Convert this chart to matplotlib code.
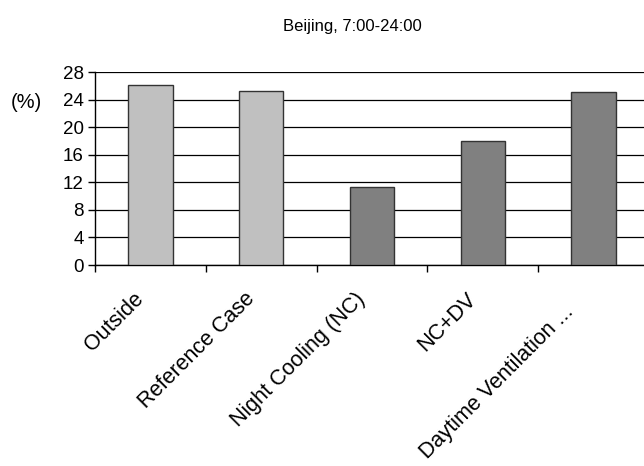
import numpy as np
import matplotlib.pyplot as plt
from matplotlib.ticker import FixedLocator
import matplotlib.transforms as mtransforms

plt.rcParams['font.family'] = ['Liberation Sans', 'DejaVu Sans']

# Data
categories = ["Outside", "Reference Case", "Night Cooling (NC)", "NC+DV",
              "Daytime Ventilation ...   "]
values = [26.2, 25.3, 11.3, 18.0, 25.2]
bar_colors = ["#c0c0c0", "#c0c0c0", "#808080", "#808080", "#808080"]
y_ticks = [0, 4, 8, 12, 16, 20, 24, 28]

W, H = 644, 466
fig = plt.figure(figsize=(W / 100, H / 100), dpi=100)

# axes box in pixels: left 95, right ~649 (runs past the figure edge), y 72..265
left, right, top, bottom = 95, 649, 72.3, 265
ax = fig.add_axes([left / W, 1 - bottom / H, (right - left) / W, (bottom - top) / H])

x = np.arange(len(categories))
ax.bar(x, values, width=0.4, color=bar_colors, edgecolor="#333333",
       linewidth=1, zorder=3)

ax.set_xlim(-0.5, len(categories) - 0.5)
ax.set_ylim(0, 28)
ax.set_yticks(y_ticks)
ax.yaxis.grid(True, color="black", linewidth=0.9, zorder=0)
ax.set_axisbelow(True)

# x ticks sit on category boundaries
ax.xaxis.set_major_locator(FixedLocator(x - 0.5))
ax.set_xticklabels([])
ax.tick_params(axis="x", direction="out", length=5, width=1, color="black")
ax.tick_params(axis="y", direction="out", length=5, width=1, labelsize=13.5, pad=3)

for side in ("top", "right"):
    ax.spines[side].set_visible(False)
ax.spines["left"].set_linewidth(1)
ax.spines["bottom"].set_linewidth(1)

# rotated category labels, right end hanging just under each bar
offset = mtransforms.ScaledTranslation(-0.10, -0.31, fig.dpi_scale_trans)
for xi, lab in zip(x, categories):
    ax.text(xi, 0, lab, rotation=45, rotation_mode="anchor", ha="right",
            va="center", fontsize=15.5,
            transform=ax.get_xaxis_transform() + offset)

fig.text(352 / W, 1 - 27 / H, "Beijing, 7:00-24:00", ha="center", va="center",
         fontsize=12)
fig.text(26 / W, 1 - 103 / H, "(%)", ha="center", va="center", fontsize=14.5)

fig.savefig("out.png", dpi=100)
